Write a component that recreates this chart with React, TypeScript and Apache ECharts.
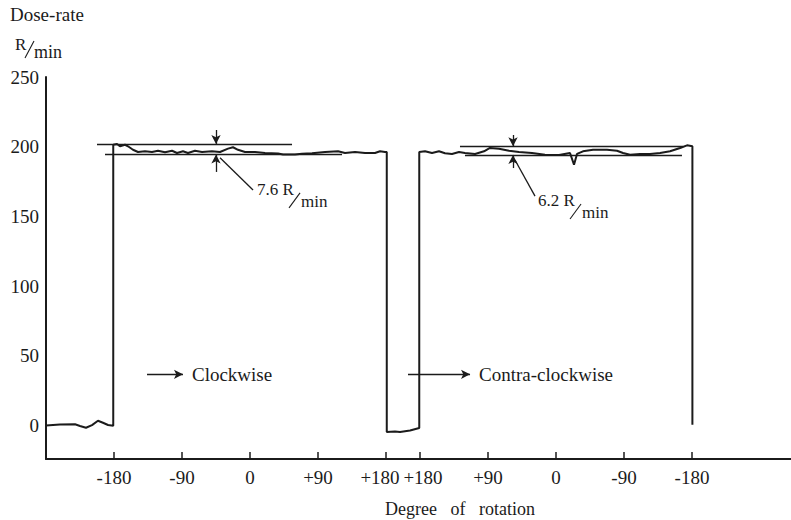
import React, { useEffect, useRef } from "react";
import * as echarts from "echarts";

// Rotation position along the recorder trace (degrees traversed; the
// counter-clockwise sweep is drawn after a 45° gap) and the measured dose-rate.
const position = [
  -270, -251.5, -231.6, -225, -217.1, -209.1, -201.2, -194.6, -187.9, -181,
  -181, -176.0, -172.1, -165.4, -161.5, -154.9, -148.2, -139.0, -129.7, -121.8,
  -112.5, -103.2, -96.6, -88.7, -82.1, -72.8, -63.5, -50.3, -39.7, -29.1,
  -22.5, -15.9, -6.6, 6.6, 19.9, 37.1, 43.7, 59.6, 68.8, 82.1,
  99.3, 116.5, 125.7, 139.0, 152.2, 165.4, 172.1, 178.7, 181,
  181, 191.9, 198.5, 211.8, 224,
  224, 231.6, 240.9, 250.1, 258.1, 267.3, 276.6, 284.5, 297.8, 309.7,
  317.6, 329.5, 342.8, 356.0, 373.2, 390.4, 409.0, 423.5, 428.8, 432.8,
  440.7, 454.0, 472.5, 485.7, 493.7, 503.0, 516.2, 529.4, 542.7, 555.9,
  569.2, 578.4, 585.5,
  585.5,
];
const doseRate = [
  0, 0.8, 0.9, -0.3, -1.6, 0.3, 3.4, 2.0, 0.4, -0.1,
  201.4, 202.0, 200.3, 201.4, 200.3, 197.8, 196.2, 196.7, 196.2, 197.1,
  196.0, 197.1, 195.5, 196.7, 195.5, 197.1, 196.2, 196.7, 196.2, 198.6,
  199.6, 197.8, 196.2, 196.2, 195.5, 195.2, 194.4, 194.4, 195.0, 195.3,
  196.2, 196.7, 195.5, 196.2, 195.5, 195.5, 196.7, 196.2, 196.2,
  -4.7, -4.3, -4.7, -3.6, -1.8,
  196.2, 196.7, 195.5, 196.7, 195.3, 194.8, 196.2, 195.5, 194.8, 196.7,
  199.1, 198.6, 197.1, 196.2, 195.5, 194.3, 194.1, 195.5, 187.1, 194.8,
  196.7, 197.8, 197.8, 197.1, 195.5, 194.3, 194.8, 194.8, 195.5, 196.7,
  199.1, 201.0, 200.3,
  0.5,
];

// Axis ticks: positions on the continuous axis and the angle printed there.
const tickPositions = [-180, -90, 0, 90, 180, 225, 315, 405, 495, 585];
const tickLabels = ["-180", "-90", "0", "+90", "+180", "+180", "+90", "0", "-90", "-180"];
const doseTicks = [0, 50, 100, 150, 200, 250];

// Fluctuation bands: upper limit and spread (R/min).
const cwMax = 202.0;
const cwSpread = 7.6;
const ccwMax = 200.3;
const ccwSpread = 6.2;
// Horizontal extents of the band limit lines [upperFrom, upperTo, lowerFrom, lowerTo].
const cwBandExtent = [-202.5, 55.6, -191.9, 121.8];
const ccwBandExtent = [277.9, 573.1, 284.5, 571.7];
// Pointer arrows: [position, tail above, tail below].
const cwPointer = [-45.0, 212.0, 181.9];
const ccwPointer = [348.1, 208.4, 184.7];
// Leader lines [x1, y1, x2, y2] and label anchors [x, baseline].
const cwLeader = [-39.7, 192.1, 4.0, 169.0];
const ccwLeader = [350.7, 190.5, 377.2, 164.6];
const cwLabelAt = [9.3, 165.4];
const ccwLabelAt = [381.2, 157.5];
// Direction arrows [from, to, level].
const cwDirection = [-136.3, -88.7, 36.7];
const ccwDirection = [209.1, 291.2, 36.7];

const INK = "#1b1b1b";
const SERIF = "'Liberation Serif', 'Times New Roman', serif";

const seg = (a: number[], b: number[], end: string = "none", extra: any = {}) => [
  { coord: a, symbol: "none", ...extra },
  { coord: b, symbol: end, symbolSize: [7, 9] },
];

function buildOption() {
  const cwMin = cwMax - cwSpread;
  const ccwMin = ccwMax - ccwSpread;
  const dirLabel = (text: string) => ({
    label: {
      show: true,
      position: "end",
      distance: 9,
      formatter: text,
      color: INK,
      fontFamily: SERIF,
      fontSize: 19,
    },
  });
  return {
    animation: false,
    backgroundColor: "#ffffff",
    grid: { left: 46, right: 0, top: 77, bottom: 61, containLabel: false, outerBoundsMode: "none" },
    xAxis: {
      type: "value",
      min: -270,
      max: 716,
      axisLine: { show: true, onZero: false, lineStyle: { color: INK, width: 2 } },
      axisTick: {
        show: true,
        inside: true,
        length: 7,
        customValues: tickPositions,
        lineStyle: { color: INK, width: 1.5 },
      },
      axisLabel: {
        customValues: tickPositions,
        margin: 9,
        color: INK,
        fontFamily: SERIF,
        fontSize: 19,
        formatter: (v: number) => {
          const i = tickPositions.indexOf(v);
          if (i < 0) return "";
          if (i === 4) return "{l|" + tickLabels[i] + "}";
          if (i === 5) return "{r|" + tickLabels[i] + "}";
          return tickLabels[i];
        },
        rich: {
          l: { fontFamily: SERIF, fontSize: 19, color: INK, padding: [0, 12, 0, 0] },
          r: { fontFamily: SERIF, fontSize: 19, color: INK, padding: [0, 0, 0, 6] },
        },
      },
      splitLine: { show: false },
    },
    yAxis: {
      type: "value",
      min: -24,
      max: 250,
      axisLine: { show: true, onZero: false, lineStyle: { color: INK, width: 2 } },
      axisTick: { show: false },
      axisLabel: {
        customValues: doseTicks,
        margin: 7,
        color: INK,
        fontFamily: SERIF,
        fontSize: 19,
      },
      splitLine: { show: false },
    },
    series: [
      {
        type: "line",
        data: position.map((p, i) => [p, doseRate[i]]),
        showSymbol: false,
        symbol: "none",
        lineStyle: { color: INK, width: 2 },
        silent: true,
        markLine: {
          silent: true,
          animation: false,
          symbol: ["none", "none"],
          lineStyle: { color: INK, width: 1.3, type: "solid" },
          label: { show: false },
          emphasis: { disabled: true },
          data: [
            // clockwise band
            seg([cwBandExtent[0], cwMax], [cwBandExtent[1], cwMax]),
            seg([cwBandExtent[2], cwMin], [cwBandExtent[3], cwMin]),
            seg([cwPointer[0], cwPointer[1]], [cwPointer[0], cwMax], "arrow"),
            seg([cwPointer[0], cwPointer[2]], [cwPointer[0], cwMin], "arrow"),
            seg([cwLeader[0], cwLeader[1]], [cwLeader[2], cwLeader[3]]),
            // counter-clockwise band
            seg([ccwBandExtent[0], ccwMax], [ccwBandExtent[1], ccwMax]),
            seg([ccwBandExtent[2], ccwMin], [ccwBandExtent[3], ccwMin]),
            seg([ccwPointer[0], ccwPointer[1]], [ccwPointer[0], ccwMax], "arrow"),
            seg([ccwPointer[0], ccwPointer[2]], [ccwPointer[0], ccwMin], "arrow"),
            seg([ccwLeader[0], ccwLeader[1]], [ccwLeader[2], ccwLeader[3]]),
            // sweep direction
            seg([cwDirection[0], cwDirection[2]], [cwDirection[1], cwDirection[2]], "arrow", dirLabel("Clockwise")),
            seg([ccwDirection[0], ccwDirection[2]], [ccwDirection[1], ccwDirection[2]], "arrow", dirLabel("Contra-clockwise")),
          ],
        },
      },
    ],
  };
}

// "value R/min" with the unit written as a slanted fraction.
function rateLabel(x: number, y: number, value: number) {
  const fs = 17;
  return {
    type: "group",
    x,
    y,
    silent: true,
    children: [
      {
        type: "text",
        x: 0,
        y: -0.34 * fs,
        style: { text: value.toFixed(1) + " R", fill: INK, font: `${fs}px ${SERIF}`, verticalAlign: "middle", align: "left" },
      },
      { type: "line", shape: { x1: 32, y1: 13, x2: 43, y2: -2 }, style: { stroke: INK, lineWidth: 1.1 } },
      {
        type: "text",
        x: 44,
        y: 12 - 0.34 * fs,
        style: { text: "min", fill: INK, font: `${fs}px ${SERIF}`, verticalAlign: "middle", align: "left" },
      },
    ],
  };
}

export default function App() {
  const ref = useRef<HTMLDivElement>(null);
  useEffect(() => {
    if (!ref.current) return;
    const chart = echarts.init(ref.current, null, { renderer: "svg" });
    chart.setOption(buildOption() as any);
    const px = (p: number[]) => chart.convertToPixel({ gridIndex: 0 }, p) as number[];
    const cw = px(cwLabelAt);
    const ccw = px(ccwLabelAt);
    chart.setOption({
      graphic: [
        {
          type: "text",
          x: 10,
          y: 21 - 0.34 * 19,
          silent: true,
          style: { text: "Dose-rate", fill: INK, font: `19px ${SERIF}`, verticalAlign: "middle", align: "left" },
        },
        {
          type: "text",
          x: 15,
          y: 50 - 0.34 * 17,
          silent: true,
          style: { text: "R", fill: INK, font: `17px ${SERIF}`, verticalAlign: "middle", align: "left" },
        },
        { type: "line", silent: true, shape: { x1: 25, y1: 58, x2: 34, y2: 41 }, style: { stroke: INK, lineWidth: 1.1 } },
        {
          type: "text",
          x: 34,
          y: 58 - 0.34 * 18,
          silent: true,
          style: { text: "min", fill: INK, font: `18px ${SERIF}`, verticalAlign: "middle", align: "left" },
        },
        rateLabel(cw[0], cw[1], cwSpread),
        rateLabel(ccw[0], ccw[1], ccwSpread),
        {
          type: "text",
          x: 460,
          y: 509,
          silent: true,
          style: { text: "Degree   of   rotation", fill: INK, font: `18px ${SERIF}`, verticalAlign: "middle", align: "center" },
        },
      ],
    } as any);
    return () => chart.dispose();
  }, []);
  return (
    <div
      ref={ref}
      style={{ position: "fixed", left: 0, top: 0, width: 791, height: 520, background: "#fff" }}
    />
  );
}
